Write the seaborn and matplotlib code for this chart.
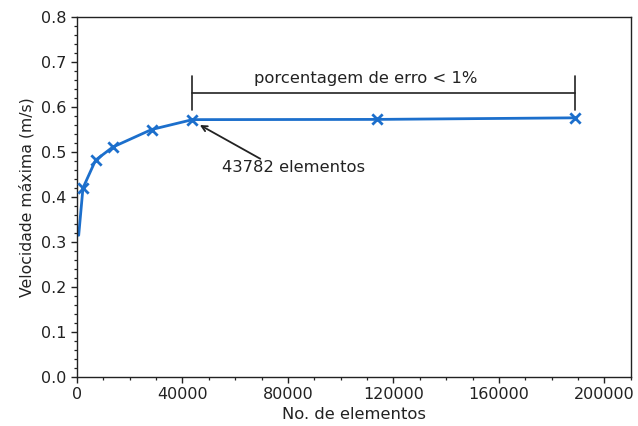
import matplotlib
matplotlib.use("Agg")
import matplotlib.pyplot as plt
from matplotlib.ticker import MultipleLocator, FormatStrFormatter
import pandas as pd
import seaborn as sns

# Mesh convergence study: peak velocity vs number of elements
elements = [2260, 7050, 13570, 28270, 43782, 113700, 188800]
velocity = [0.420, 0.482, 0.511, 0.550, 0.572, 0.5725, 0.576]

# coarsest mesh (drawn on the curve only)
start_elements = [640]
start_velocity = [0.315]

curve_x = start_elements + elements
curve_y = start_velocity + velocity

bracket_text = "porcentagem de erro < 1%"
arrow_text = "43782 elementos"
x_label = "No. de elementos"
y_label = "Velocidade máxima (m/s)"

blue = "#1c6fcc"
ink = "#222222"

sns.set_style("ticks")
plt.rcParams["font.family"] = ["DejaVu Sans"]

fig = plt.figure(figsize=(6.38, 4.26), dpi=100)
ax = fig.add_axes([0.1207, 0.115, 0.868, 0.845])

curve = pd.DataFrame({"n": curve_x, "v": curve_y})
points = pd.DataFrame({"n": elements, "v": velocity})

sns.lineplot(data=curve, x="n", y="v", ax=ax, color=blue, linewidth=2,
             estimator=None, sort=True)
sns.scatterplot(data=points, x="n", y="v", ax=ax, color=blue, marker="x",
                s=55, linewidth=2, zorder=3)

ax.set_xlim(0, 210000)
ax.set_ylim(0.0, 0.8)
ax.xaxis.set_major_locator(MultipleLocator(40000))
ax.xaxis.set_minor_locator(MultipleLocator(10000))
ax.yaxis.set_major_locator(MultipleLocator(0.1))
ax.yaxis.set_minor_locator(MultipleLocator(0.02))
ax.yaxis.set_major_formatter(FormatStrFormatter("%.1f"))
ax.tick_params(axis="both", which="major", labelsize=11.5, length=4, width=1, colors=ink)
ax.tick_params(axis="both", which="minor", length=2.5, width=0.9, colors=ink)
for s in ax.spines.values():
    s.set_color(ink)
    s.set_linewidth(1.0)

ax.set_xlabel(x_label, fontsize=11.8, color=ink, labelpad=3)
ax.set_ylabel(y_label, fontsize=11.3, color=ink, labelpad=5)

# bracket over the converged range
x0, x1 = elements[4], elements[-1]
ax.plot([x0, x1], [0.632, 0.632], color=ink, lw=1.2)
ax.plot([x0, x0], [0.594, 0.670], color=ink, lw=1.2)
ax.plot([x1, x1], [0.594, 0.670], color=ink, lw=1.2)
ax.text(109500, 0.664, bracket_text, ha="center", va="center",
        fontsize=11.8, color=ink)

# arrow pointing at the chosen mesh
ax.annotate("", xy=(elements[4] + 2800, velocity[4] - 0.012), xytext=(69500, 0.485),
            arrowprops=dict(arrowstyle="->", color=ink, lw=1.3,
                            shrinkA=0, shrinkB=0))
ax.text(82000, 0.465, arrow_text, ha="center", va="center",
        fontsize=11.8, color=ink)

fig.savefig("out.png", dpi=100)
